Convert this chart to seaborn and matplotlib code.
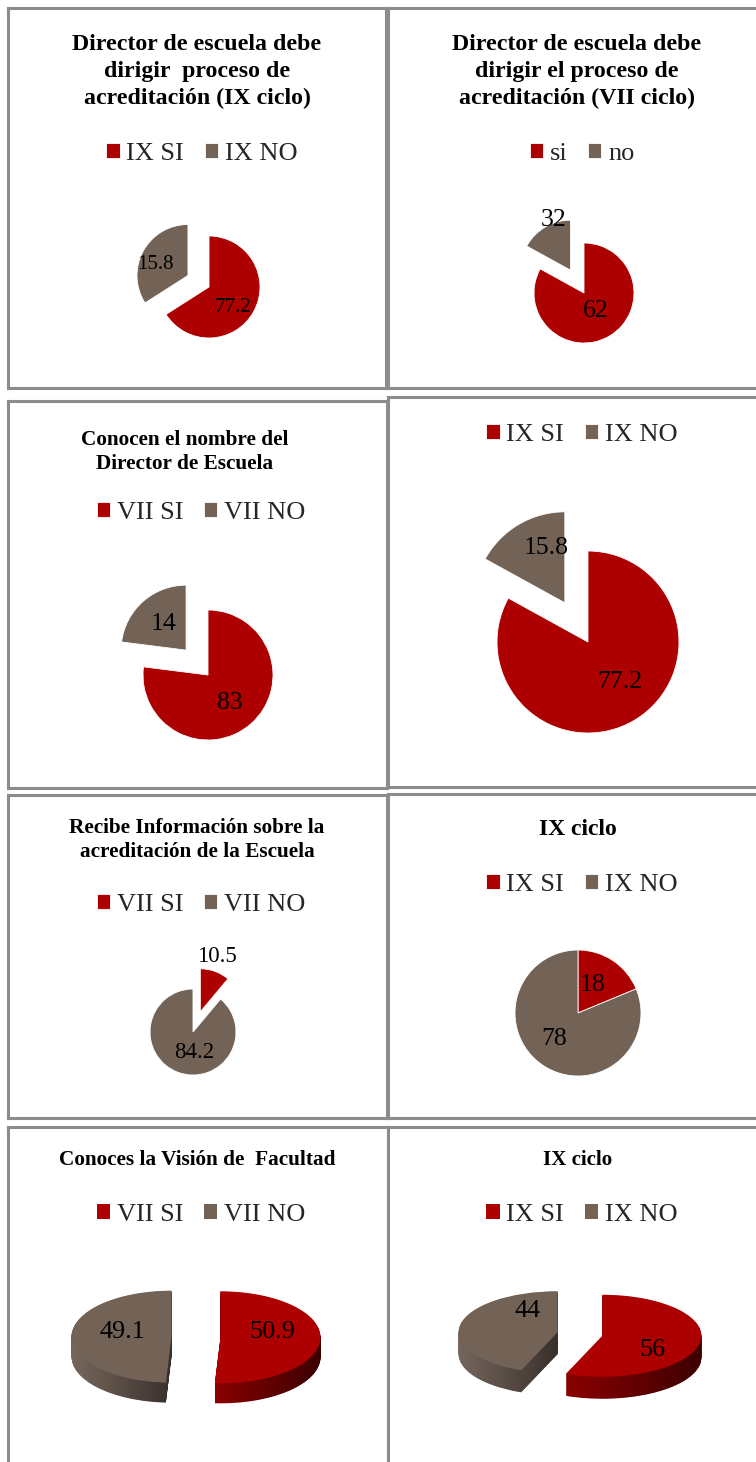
import numpy as np
import matplotlib
matplotlib.use("Agg")
import matplotlib.pyplot as plt
import seaborn as sns
from matplotlib.colors import LinearSegmentedColormap

# ------------------------------------------------------------------ data
p1_title = "Director de escuela debe\ndirigir  proceso de\nacreditación (IX ciclo)"
p1_cats = ["IX SI", "IX NO"]
p1_sizes = [62, 32]             # slice sizes as drawn in the source
p1_labels = ["77.2", "15.8"]    # data labels as printed in the source

p2_title = "Director de escuela debe\ndirigir el proceso de\nacreditación (VII ciclo)"
p2_cats = ["si", "no"]
p2_sizes = [77.2, 15.8]
p2_labels = ["62", "32"]

p3_title = "Conocen el nombre del\nDirector de Escuela"
p3_cats = ["VII SI", "VII NO"]
p3_sizes = [77, 23]
p3_labels = ["83", "14"]

p4_title = ""
p4_cats = ["IX SI", "IX NO"]
p4_sizes = [77.2, 15.8]
p4_labels = ["77.2", "15.8"]

p5_title = "Recibe Información sobre la\nacreditación de la Escuela"
p5_cats = ["VII SI", "VII NO"]
p5_sizes = [10.5, 84.2]
p5_labels = ["10.5", "84.2"]

p6_title = "IX ciclo"
p6_cats = ["IX SI", "IX NO"]
p6_sizes = [18, 78]
p6_labels = ["18", "78"]

p7_title = "Conoces la Visión de  Facultad"
p7_cats = ["VII SI", "VII NO"]
p7_sizes = [50.9, 49.1]
p7_labels = ["50.9", "49.1"]

p8_title = "IX ciclo"
p8_cats = ["IX SI", "IX NO"]
p8_sizes = [56, 44]
p8_labels = ["56", "44"]

# ------------------------------------------------------------------ style
sns.set_theme(style="white")
plt.rcParams["font.family"] = ["Liberation Serif", "DejaVu Serif"]

RED, GRAY = sns.color_palette(["#ad0000", "#736357"])
BORDER = "#8c8c8c"
red_side = LinearSegmentedColormap.from_list("rs", ["#8a0000", "#3c0000"])
gray_side = LinearSegmentedColormap.from_list("gs", ["#76675d", "#3a312c"])

W, H = 756, 1462
fig = plt.figure(figsize=(W / 100, H / 100), dpi=100)
fig.patch.set_facecolor("white")


def rect(x0, y0, x1, y1):
    return [x0 / W, 1 - y1 / H, (x1 - x0) / W, (y1 - y0) / H]


def fx(x):
    return x / W


def fy(y):
    return 1 - y / H


panels = [
    dict(data=(p1_title, p1_cats, p1_sizes, p1_labels), box=(8, 8, 386, 388),
         title=(197, 45, 26.5, 17.2), legend=(202, 154), center=(209, 287), r=51,
         explode=[0, 0.47], lab=[(-12, 0.63), (10, 0.67)], labfs=15),
    dict(data=(p2_title, p2_cats, p2_sizes, p2_labels), box=(388, 8, 762, 388),
         title=(577, 45, 26.5, 17.2), legend=(582, 154), center=(584, 293), r=50,
         explode=[0, 0.53], lab=[(3, 0.43), (-12, 1.05)], labfs=18.5),
    dict(data=(p3_title, p3_cats, p3_sizes, p3_labels), box=(8, 401, 387, 788),
         title=(185, 440, 24, 15.3), legend=(201, 513), center=(208, 675), r=65,
         explode=[0, 0.51], lab=[(-4, 0.55), (0, 0.53)], labfs=18.5),
    dict(data=(p4_title, p4_cats, p4_sizes, p4_labels), box=(388, 397, 762, 787),
         title=(578, 0, 0, 15), legend=(582, 435), center=(588, 642), r=91,
         explode=[0, 0.5], lab=[(8, 0.56), (-12, 0.63)], labfs=18.5),
    dict(data=(p5_title, p5_cats, p5_sizes, p5_labels), box=(8, 795, 387, 1118),
         title=(197, 828, 24, 15.3), legend=(201, 905), center=(193, 1032), r=43,
         explode=[0.5, 0], lab=[(3, 1.34), (23, 0.47)], labfs=16.5),
    dict(data=(p6_title, p6_cats, p6_sizes, p6_labels), box=(388, 794, 762, 1118),
         title=(578, 830, 24, 17), legend=(582, 885), center=(578, 1013), r=63,
         explode=[0, 0], lab=[(7, 0.5), (-9, 0.56)], labfs=18.5),
    dict(data=(p7_title, p7_cats, p7_sizes, p7_labels), box=(8, 1127, 388, 1475),
         title=(197, 1160, 24, 15.3), legend=(201, 1215), center=(196, 1337), r=(100, 46),
         depth=20, explode=[0.245, 0.245], lab=[(14, 0.53), (-11, 0.5)], labfs=18.8),
    dict(data=(p8_title, p8_cats, p8_sizes, p8_labels), box=(388, 1127, 762, 1475),
         title=(578, 1160, 24, 15), legend=(582, 1215), center=(580, 1334), r=(99, 41),
         depth=22, explode=[0.23, 0.23], lab=[(-24, 0.61), (-49, 0.6)], labfs=18.8),
]

for p in panels:
    title, cats, sizes, labels = p["data"]
    # frame
    fa = fig.add_axes(rect(*p["box"]))
    fa.set_xticks([])
    fa.set_yticks([])
    fa.set_facecolor("white")
    for s in fa.spines.values():
        s.set_color(BORDER)
        s.set_linewidth(2.2)
    # title (one text per line)
    tx, ty, tsp, tfs = p["title"]
    for i, line in enumerate([l for l in title.split("\n") if l]):
        fig.text(fx(tx), fy(ty + i * tsp), line, ha="center", va="center",
                 fontsize=tfs, fontweight="bold", color="black")

    cx, cy = p["center"]
    colors = [RED, GRAY]
    if "depth" in p:
        rx, ry = p["r"]
        ax_, ay_ = 2.0 * rx, 2.2 * ry + p["depth"]
        pa = fig.add_axes(rect(cx - ax_, cy - ay_, cx + ax_, cy + ay_))
        d = p["depth"] / ry
        for t in np.linspace(d, 0, 36, endpoint=False):
            ws, _ = pa.pie(sizes, colors=["none", "none"], explode=p["explode"],
                           startangle=90, counterclock=False, center=(0, -t),
                           wedgeprops=dict(linewidth=0))
            for w, cm in zip(ws, [red_side, gray_side]):
                v = w.get_path().vertices
                im = pa.imshow(np.linspace(0, 1, 64)[None, :], cmap=cm,
                               extent=(v[:, 0].min(), v[:, 0].max(), -t - 1.6, -t + 1.6),
                               aspect="auto", interpolation="bilinear", zorder=1)
                im.set_clip_path(w)
        wedges, _ = pa.pie(sizes, colors=colors, explode=p["explode"], startangle=90,
                           counterclock=False, center=(0, 0),
                           wedgeprops=dict(linewidth=0, zorder=3))
        pa.set_aspect("auto")
        pa.set_xlim(-ax_ / rx, ax_ / rx)
        pa.set_ylim(-ay_ / ry, ay_ / ry)
    else:
        r = p["r"]
        A = 2.4 * r
        pa = fig.add_axes(rect(cx - A, cy - A, cx + A, cy + A))
        wedges, _ = pa.pie(sizes, colors=colors, explode=p["explode"], startangle=90,
                           counterclock=False, radius=1,
                           wedgeprops=dict(linewidth=0.6, edgecolor="white"))
        pa.set_aspect("auto")
        pa.set_xlim(-A / r, A / r)
        pa.set_ylim(-A / r, A / r)
    pa.axis("off")

    # data labels placed from wedge geometry
    for w, lab, (dang, dist) in zip(wedges, labels, p["lab"]):
        th = np.deg2rad((w.theta1 + w.theta2) / 2 + dang)
        x0, y0 = w.center
        pa.text(x0 + dist * w.r * np.cos(th), y0 + dist * w.r * np.sin(th), lab,
                ha="center", va="center", fontsize=p["labfs"], color="black", zorder=5)

    lx, ly = p["legend"]
    fa.legend(wedges, cats, loc="center", bbox_to_anchor=(fx(lx), fy(ly)),
              bbox_transform=fig.transFigure, ncol=2, frameon=False, fontsize=19,
              handlelength=0.5, handleheight=0.53, handletextpad=0.25,
              columnspacing=0.8, borderpad=0, borderaxespad=0)

fig.savefig("out.png", dpi=100, facecolor="white")
